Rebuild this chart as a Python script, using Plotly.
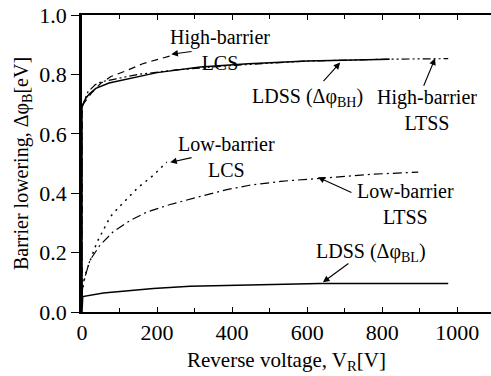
import plotly.graph_objects as go

# High-barrier curves
hb_ldss_v = [0, 0, 3, 10, 20, 37, 72, 136, 200, 315, 443, 600, 741, 820]
hb_ldss_p = [0.05, 0.69, 0.70, 0.72, 0.735, 0.753, 0.771, 0.789, 0.806, 0.825, 0.836, 0.845, 0.849, 0.851]

hb_ltss_v = [0, 0, 3, 15, 35, 51, 91, 150, 250, 400, 600, 800, 976]
hb_ltss_p = [0.05, 0.69, 0.70, 0.74, 0.765, 0.775, 0.785, 0.80, 0.815, 0.83, 0.845, 0.851, 0.853]

hb_lcs_v = [0, 0, 3, 24, 50, 77, 117, 160, 200, 235]
hb_lcs_p = [0.05, 0.69, 0.70, 0.735, 0.77, 0.793, 0.812, 0.835, 0.85, 0.862]

# Low-barrier curves
lb_lcs_v = [0, 4, 12, 26, 40, 75, 100, 150, 190, 226]
lb_lcs_p = [0.06, 0.097, 0.14, 0.185, 0.235, 0.32, 0.355, 0.42, 0.46, 0.505]

lb_ltss_v = [0, 3, 21, 48, 83, 128, 172, 235, 306, 386, 443, 530, 634, 776, 896]
lb_ltss_p = [0.06, 0.097, 0.174, 0.225, 0.27, 0.308, 0.336, 0.362, 0.386, 0.412, 0.426, 0.44, 0.45, 0.464, 0.471]

lb_ldss_v = [0, 0, 2, 57, 190, 288, 421, 634, 976]
lb_ldss_p = [0.0, 0.05, 0.052, 0.064, 0.079, 0.087, 0.09, 0.096, 0.096]

FONT = "Liberation Serif"

fig = go.Figure()

def add(v, p, dash, width=1.2):
    fig.add_trace(go.Scatter(x=v, y=p, mode="lines",
                             line=dict(color="black", width=width, dash=dash),
                             showlegend=False, hoverinfo="skip"))

add(hb_ltss_v, hb_ltss_p, "8px,3px,2px,3px,2px,3px", 1.2)
add(hb_lcs_v, hb_lcs_p, "7px,5px", 1.2)
add(hb_ldss_v, hb_ldss_p, "solid", 1.5)
add(lb_lcs_v, lb_lcs_p, "2px,5px", 1.5)
add(lb_ltss_v, lb_ltss_p, "9px,4px,2px,4px", 1.2)
add(lb_ldss_v, lb_ldss_p, "solid", 1.5)

# text labels
labels = [
    (368, 0.883, "High-barrier<br>LCS"),
    (602, 0.723, "LDSS (Δφ<sub>BH</sub>)"),
    (920, 0.679, "High-barrier<br>LTSS"),
    (384, 0.523, "Low-barrier<br>LCS"),
    (861, 0.364, "Low-barrier<br>LTSS"),
    (770, 0.201, "LDSS (Δφ<sub>BL</sub>)"),
]
for x, y, t in labels:
    fig.add_annotation(x=x, y=y, text=t, showarrow=False,
                       font=dict(family=FONT, size=20, color="black"),
                       xanchor="center", yanchor="middle")

# arrows (head, tail)
arrows = [
    ((238, 0.868), (296, 0.878)),
    ((688, 0.84), (640, 0.772)),
    ((941, 0.854), (909, 0.757)),
    ((235, 0.504), (296, 0.521)),
    ((629, 0.454), (722, 0.40)),
    ((642, 0.10), (714, 0.167)),
]
for (hx, hy), (tx, ty) in arrows:
    fig.add_annotation(x=hx, y=hy, ax=tx, ay=ty, axref="x", ayref="y",
                       text="", showarrow=True, arrowhead=2, arrowsize=1.2,
                       arrowwidth=1.1, arrowcolor="black")

fig.update_layout(
    width=491, height=376,
    margin=dict(l=82, r=0, t=15, b=64),
    paper_bgcolor="white", plot_bgcolor="white",
    font=dict(family=FONT, color="black"),
)
fig.update_xaxes(
    range=[0, 1090], showgrid=False, zeroline=False,
    showline=True, linecolor="black", linewidth=1.5, mirror="ticks",
    ticks="inside", ticklen=5, tickcolor="black", dtick=200, tick0=0,
    minor=dict(ticks="inside", dtick=100, ticklen=4, tickcolor="black"),
    tickfont=dict(family=FONT, size=22),
    title=dict(text="Reverse voltage, V<sub>R</sub>[V]",
               font=dict(family=FONT, size=21), standoff=8),
)
fig.update_yaxes(
    range=[0, 1.0], showgrid=False, zeroline=False,
    showline=True, linecolor="black", linewidth=2.5, mirror=False,
    ticks="outside", ticklen=8, tickcolor="black", dtick=0.2, tick0=0,
    tickformat=".1f",
    tickfont=dict(family=FONT, size=22),
    title=dict(text="Barrier lowering, Δφ<sub>B</sub>[eV]",
               font=dict(family=FONT, size=20), standoff=6),
)

fig.write_html("out.html")
